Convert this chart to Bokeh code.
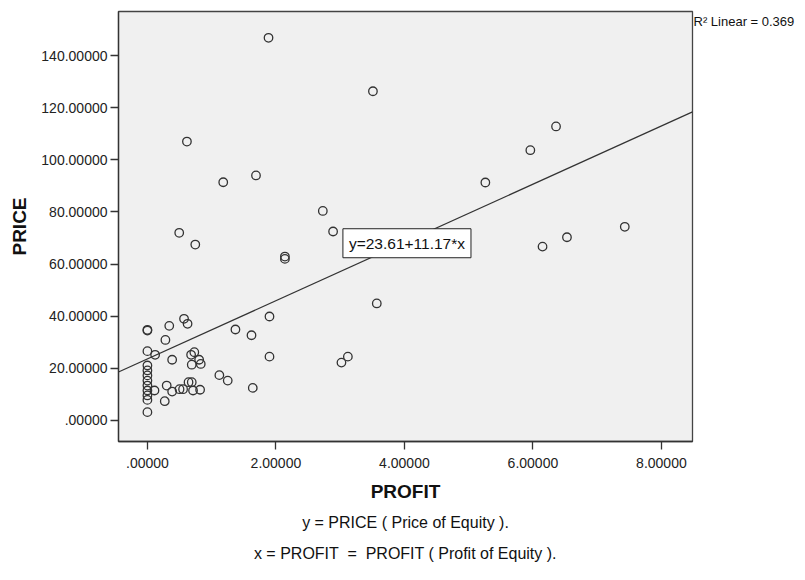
import numpy as np
from bokeh.plotting import figure
from bokeh.models import FixedTicker, Label, Range1d, Title, LinearAxis
from bokeh.embed import file_html
from bokeh.resources import INLINE

# ---- data ----
profit = [1.885, 3.51, 6.36, 5.96, 0.615, 1.18, 1.69, 5.26, 2.73, 2.89,
          0.495, 0.745, 2.14, 2.14, 7.43, 6.53, 6.15, 3.57,
          0.0, 0.0, 0.34, 0.57, 0.625, 0.28, 0.0, 0.12, 0.385, 0.73,
          0.68, 0.805, 0.83, 0.69, 1.37, 1.62, 1.90, 1.90, 1.12, 1.25,
          1.64, 3.02, 3.12,
          0.0, 0.0, 0.0, 0.0, 0.0, 0.0, 0.0, 0.0, 0.0,
          0.11, 0.30, 0.385, 0.27, 0.50, 0.555, 0.64, 0.69, 0.71, 0.82]
price = [146.8, 126.3, 112.8, 103.7, 107.0, 91.4, 94.0, 91.3, 80.4, 72.5,
         72.0, 67.5, 62.9, 62.0, 74.3, 70.3, 66.7, 44.9,
         34.5, 34.8, 36.3, 39.0, 37.1, 30.9, 26.6, 25.2, 23.3, 26.2,
         25.2, 23.3, 21.7, 21.4, 34.9, 32.7, 39.9, 24.5, 17.4, 15.3,
         12.5, 22.2, 24.5,
         21.1, 19.2, 17.3, 15.3, 13.4, 11.5, 9.6, 7.9, 3.2,
         11.5, 13.4, 11.1, 7.4, 12.0, 12.0, 14.7, 14.7, 11.5, 11.8]

fit_intercept = 23.61
fit_slope = 11.17
r_squared = 0.369

x_ticks = [0, 2, 4, 6, 8]
x_tick_labels = [".00000", "2.00000", "4.00000", "6.00000", "8.00000"]
y_ticks = [0, 20, 40, 60, 80, 100, 120, 140]
y_tick_labels = [".00000", "20.00000", "40.00000", "60.00000", "80.00000",
                 "100.00000", "120.00000", "140.00000"]
x_limits = (-0.45, 8.484)
y_limits = (-8.06, 156.9)

x_label = "PROFIT"
y_label = "PRICE"
equation = "y=23.61+11.17*x"
r2_note = "R\u00b2 Linear = %.3f" % r_squared
footnote_1 = "y = PRICE ( Price of Equity )."
footnote_2 = "x = PROFIT \u00a0=\u00a0 PROFIT ( Profit of Equity )."

FONT = "Liberation Sans"
DARK = "#333333"

p = figure(width=797, height=572, output_backend="svg", toolbar_location=None,
           x_range=Range1d(*x_limits), y_range=Range1d(*y_limits),
           min_border_left=118, min_border_right=105, min_border_top=11,
           min_border_bottom=131)
p.background_fill_color = "#F0F0F0"
p.border_fill_color = "white"
p.outline_line_color = "#444444"
p.outline_line_width = 1.3
p.grid.visible = False

for ax, ticks, labels, lab in ((p.xaxis[0], x_ticks, x_tick_labels, x_label),
                                (p.yaxis[0], y_ticks, y_tick_labels, y_label)):
    ax.ticker = FixedTicker(ticks=ticks)
    ax.major_label_overrides = {t: l for t, l in zip(ticks, labels)}
    ax.minor_tick_line_color = None
    ax.major_tick_out = 8
    ax.major_tick_in = 0
    ax.major_tick_line_color = DARK
    ax.major_tick_line_width = 1.3
    ax.axis_line_color = DARK
    ax.axis_line_width = 1.3
    ax.major_label_text_font = FONT
    ax.major_label_text_font_size = "14px"
    ax.major_label_text_color = "#222222"
    ax.axis_label = lab
    ax.axis_label_text_font = FONT
    ax.axis_label_text_font_size = "19px"
    ax.axis_label_text_font_style = "bold"
    ax.axis_label_text_color = "#111111"
p.xaxis[0].major_label_standoff = 8
p.xaxis[0].axis_label_standoff = 10
p.yaxis[0].major_label_standoff = 3
p.yaxis[0].axis_label_standoff = 8

# fit line across the axis range
fx = np.array(x_limits)
fy = fit_intercept + fit_slope * fx
p.line(fx, fy, line_color=DARK, line_width=1.2)

p.scatter(profit, price, size=8.5, fill_color=None, line_color=DARK, line_width=1.3)

p.add_layout(Label(x=3.043, y=68.0, text=equation, text_align="left",
                   text_baseline="middle", text_font=FONT, text_font_size="15.5px",
                   text_color="#111111", background_fill_color="white",
                   border_line_color="#222222", border_line_width=1, padding=6))

# R-squared note at the top right, outside the frame (carried by a bare right axis)
r2_pos = 153
r2_axis = LinearAxis(ticker=FixedTicker(ticks=[r2_pos]),
                     major_label_overrides={r2_pos: r2_note},
                     axis_line_color=None, major_tick_line_color=None,
                     minor_tick_line_color=None, major_tick_out=0, major_tick_in=0,
                     major_label_standoff=1, major_label_text_font=FONT,
                     major_label_text_font_size="13px",
                     major_label_text_color="#111111")
p.add_layout(r2_axis, "right")

# footnotes below the x axis
for txt, so in ((footnote_1, 14), (footnote_2, 10)):
    p.add_layout(Title(text=txt, align="center", offset=-5, text_font=FONT,
                       text_font_size="16px", text_font_style="normal",
                       text_color="#111111", standoff=so), "below")

open("out.html", "w").write(file_html(p, INLINE))
